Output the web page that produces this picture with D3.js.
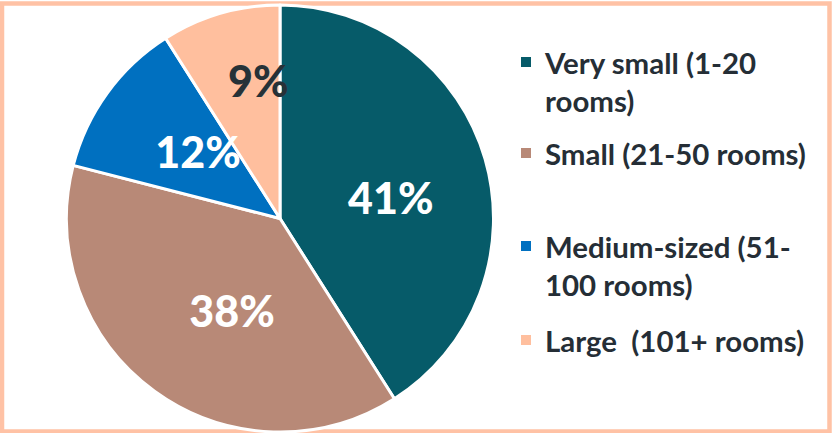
<!DOCTYPE html>
<html>
<head>
<meta charset="utf-8">
<script src="https://cdn.jsdelivr.net/npm/d3@7/dist/d3.min.js"></script>
<style>
  html, body { margin: 0; padding: 0; background: #ffffff; }
  svg { display: block; }
  text { white-space: pre; }
</style>
</head>
<body>
<svg id="chart" width="832" height="433"></svg>
<script>
// Share of hotels by size band
const categories = [
  ["Very small (1-20", "rooms)"],
  ["Small (21-50 rooms)"],
  ["Medium-sized (51-", "100 rooms)"],
  ["Large  (101+ rooms)"]
];
const shares = [41, 38, 12, 9];
const percentLabels = ["41%", "38%", "12%", "9%"];
const sliceColors = ["#065B69", "#B88977", "#0070C0", "#FFBF9E"];

const W = 832, H = 433;
const svg = d3.select("#chart");

// outer frame
svg.append("rect")
  .attr("x", 2).attr("y", 3.5)
  .attr("width", W - 4.5).attr("height", H - 5)
  .attr("fill", "#ffffff")
  .attr("stroke", "#FFC2A5")
  .attr("stroke-width", 4.5);

const cx = 280, cy = 218.5, R = 213.5;

const pie = d3.pie().sort(null).value(d => d);
const arcs = pie(shares);
const arc = d3.arc().innerRadius(0).outerRadius(R);

const g = svg.append("g").attr("transform", `translate(${cx},${cy})`);

g.selectAll("path.slice")
  .data(arcs)
  .join("path")
  .attr("class", "slice")
  .attr("d", arc)
  .attr("fill", (d, i) => sliceColors[i])
  .attr("stroke", "#ffffff")
  .attr("stroke-width", 3)
  .attr("stroke-linejoin", "round");

// percentage labels: centroid on a ring, nudged to fit inside each slice
const labelArc = d3.arc().innerRadius(R * 0.55).outerRadius(R * 0.55);
const nudges = [[-2, 12], [21, -3], [13, 2], [11, -25]];
const labelColors = ["#ffffff", "#ffffff", "#ffffff", "#263238"];

g.selectAll("text.pct")
  .data(arcs)
  .join("text")
  .attr("class", "pct")
  .attr("x", (d, i) => labelArc.centroid(d)[0] + nudges[i][0])
  .attr("y", (d, i) => labelArc.centroid(d)[1] + nudges[i][1])
  .attr("text-anchor", "middle")
  .attr("dominant-baseline", "central")
  .attr("font-family", "Lato, 'Open Sans', sans-serif")
  .attr("font-weight", 900)
  .attr("font-size", 43)
  .attr("fill", (d, i) => labelColors[i])
  .text((d, i) => percentLabels[i]);

// legend
const legendTop = [62, 153, 246, 340];
const lineGap = 38;
const legendFont = "Lato, 'Open Sans', sans-serif";

// size the legend type so the widest single-line entry spans the legend column
const probe = svg.append("text")
  .attr("font-family", legendFont).attr("font-weight", 700)
  .attr("font-size", 20).text(categories[1][0]);
const probeW = probe.node().getComputedTextLength();
probe.remove();
const legendSize = Math.min(30, Math.max(18, 20 * 261 / probeW));

const legend = svg.append("g");
categories.forEach((lines, i) => {
  legend.append("rect")
    .attr("x", 521).attr("y", legendTop[i] - 5)
    .attr("width", 10).attr("height", 10)
    .attr("fill", sliceColors[i]);
  const t = legend.append("text")
    .attr("x", 545)
    .attr("y", legendTop[i])
    .attr("dominant-baseline", "central")
    .attr("font-family", legendFont)
    .attr("font-weight", 700)
    .attr("font-size", legendSize)
    .attr("fill", "#252E36");
  lines.forEach((ln, j) => {
    t.append("tspan")
      .attr("x", 545)
      .attr("dy", j === 0 ? 0 : lineGap)
      .text(ln);
  });
});
</script>
</body>
</html>
